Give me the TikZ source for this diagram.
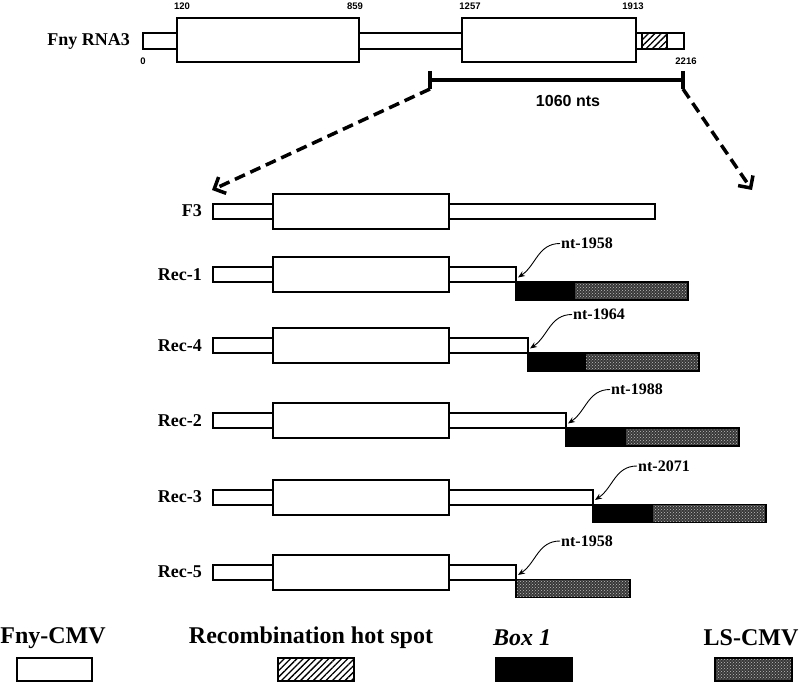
\documentclass[tikz,border=0pt]{standalone}
\usepackage{fontspec}
\setmainfont{Liberation Serif}
\newfontfamily\arialf{Liberation Sans}
\usetikzlibrary{patterns,patterns.meta,arrows.meta,calc}

\tikzset{
  bx/.style={draw=black, line width=2pt, fill=white},
  blk/.style={draw=black, line width=1.5pt, fill=black},
  lsbox/.style={draw=black, line width=1.5pt, preaction={fill=black!78}, pattern=crosshatch dots, pattern color=white!75!black},
  hatchbox/.style={draw=black, line width=1.5pt, fill=white, postaction={pattern={Lines[angle=45,distance=4.5pt,line width=1.3pt]}}},
  rowlab/.style={anchor=east, inner sep=1pt, font=\fontsize{18}{20}\selectfont\bfseries},
  ntlab/.style={anchor=west, inner sep=1pt, font=\fontsize{16}{18}\selectfont\bfseries},
  numlab/.style={inner sep=0.5pt, font=\arialf\fontsize{9.5}{10}\selectfont\bfseries},
  leglab/.style={inner sep=1pt, font=\fontsize{24}{26}\selectfont\bfseries},
  ntarrow/.style={line width=0.9pt, -{Stealth[length=7pt,width=5.5pt]}},
  dasharrow/.style={line width=3.5pt, dash pattern=on 11pt off 6pt, -{Straight Barb[length=9pt,width=18pt]}},
}

\newcommand\recrow[6]{%
  \node[rowlab] (#1) at (203,#2) {#3};
  \draw[bx] (213,{#2-7.5}) rectangle (#4,{#2+7.5});
  \draw[bx] (273,{#2-17.5}) rectangle (449,{#2+17.5});
  \ifnum#6>0 \draw[blk] (#4,{#2+7.5}) rectangle ({#4+#6},{#2+25.5});\fi
  \draw[lsbox] ({#4+#6},{#2+7.5}) rectangle ({#4+#6+114},{#2+25.5});
  \coordinate (#1-j) at ({#4+2},{#2+3});
  \node[ntlab] (#1-nt) at ({#4+44},{#2-31}) {#5};
  \draw[ntarrow] (#1-nt.west) .. controls ($(#1-nt.west)+(-22,0)$) and ($(#1-j)+(18,-12)$) .. (#1-j);
}

\begin{document}
\begin{tikzpicture}[x=1pt,y=-1pt]
\useasboundingbox (0,0) rectangle (800,682);

% ---- top: Fny RNA3 ----
\node[rowlab] (fny) at (131,41) {Fny RNA3};
\draw[bx] (143,33) rectangle (684,49);
\draw[hatchbox] (642,33) rectangle (667,49);
\draw[line width=2pt] (642,33) -- (684,33) -- (684,49) -- (642,49);
\draw[bx] (177,18) rectangle (359,62);
\draw[bx] (462,18) rectangle (636,62);
\node[numlab] (n120) at (182,6) {120};
\node[numlab] (n859) at (355,6) {859};
\node[numlab] (n1257) at (470,6) {1257};
\node[numlab] (n1913) at (633,6) {1913};
\node[numlab] (n0) at (143,61) {0};
\node[numlab] (n2216) at (686,61) {2216};

% ---- scale bar ----
\coordinate (sbl) at (430,80);
\coordinate (sbr) at (683,80);
\coordinate (sblb) at (430,89);
\coordinate (sbrb) at (683,89);
\draw[line width=4pt] (sbl) -- (sbr);
\draw[line width=3.5pt] (430,71) -- (sblb);
\draw[line width=3.5pt] (683,71) -- (sbrb);
\node[font=\arialf\fontsize{16}{18}\selectfont\bfseries, inner sep=1pt] (nts) at (568,101) {1060 nts};
\coordinate (arrL) at (212,190);
\coordinate (arrR) at (752,190);
\draw[dasharrow] (sblb) -- (arrL);
\draw[dasharrow] (sbrb) -- (arrR);

% ---- F3 ----
\node[rowlab] (f3) at (203,211) {F3};
\draw[bx] (213,203.5) rectangle (655,218.5);
\draw[bx] (273,193.5) rectangle (449,228.5);

% ---- recombinants ----
\recrow{rec1}{274.5}{Rec-1}{516}{nt-1958}{58}
\recrow{rec4}{345.5}{Rec-4}{528}{nt-1964}{57}
\recrow{rec2}{420.5}{Rec-2}{566}{nt-1988}{59}
\recrow{rec3}{497}{Rec-3}{593}{nt-2071}{59}
\recrow{rec5}{572}{Rec-5}{516}{nt-1958}{0}

% ---- legend ----
\node[leglab] (lfny) at (53,638) {Fny-CMV};
\draw[bx] (17,658) rectangle (92,681);
\node[leglab] (lrec) at (311,638) {Recombination hot spot};
\draw[hatchbox] (278,658) rectangle (354,681);
\node[leglab, font=\fontsize{24}{26}\selectfont\bfseries\itshape] (lbox) at (522,638) {Box 1};
\draw[blk] (496,658) rectangle (572,681);
\node[leglab] (lls) at (751,638) {LS-CMV};
\draw[lsbox] (715,658) rectangle (792,681);
\end{tikzpicture}
\end{document}
